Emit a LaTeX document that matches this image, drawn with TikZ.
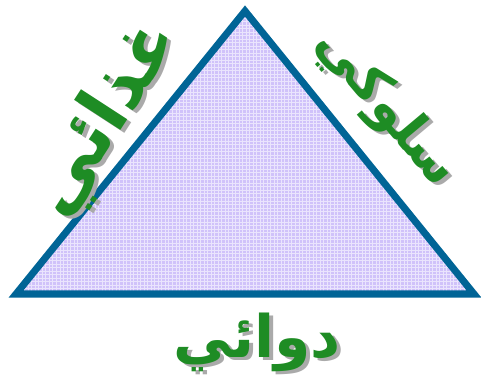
\documentclass[tikz,border=0pt]{standalone}
\usepackage{fontspec}
\newfontfamily\arabicfont[Script=Arabic]{DejaVu Sans}
\TeXXeTstate=1
\usetikzlibrary{patterns}
\definecolor{edgeblue}{RGB}{0,100,150}
\definecolor{softlilac}{RGB}{208,194,250}
\definecolor{leafgreen}{RGB}{30,140,36}
\definecolor{shadegray}{RGB}{170,170,170}

\begin{document}
\begin{tikzpicture}[x=0.03cm, y=0.03cm,
    every node/.style={inner sep=0pt},
    word/.style={text=leafgreen, font=\arabicfont\bfseries\fontsize{#1}{#1}\selectfont},
    wordshade/.style={text=shadegray, font=\arabicfont\bfseries\fontsize{#1}{#1}\selectfont},
    tri/.style={draw=edgeblue, line width=6pt, line join=miter}
  ]
  \useasboundingbox (0,0) rectangle (481,380);
  % triangle corners
  \coordinate (apex) at (245,369);
  \coordinate (lcorner) at (16,86);
  \coordinate (rcorner) at (474,86);
  \fill[softlilac] (apex) -- (lcorner) -- (rcorner) -- cycle;
  \fill[pattern=grid, pattern color=white!55!softlilac] (apex) -- (lcorner) -- (rcorner) -- cycle;
  \draw[tri] (apex) -- (lcorner) -- (rcorner) -- cycle;

  % word positions
  \coordinate (foodpos) at (106,261);
  \coordinate (habitpos) at (386,272);
  \coordinate (drugpos) at (257,38);

  % shadows
  \node[wordshade=62, rotate=57] (foodshade) at ([shift={(4,-3)}]foodpos) {\beginR غذائي\endR};
  \node[wordshade=45, rotate=-50] (habitshade) at ([shift={(4,-3)}]habitpos) {\beginR سلوكي\endR};
  \node[wordshade=50] (drugshade) at ([shift={(4,-3)}]drugpos) {\beginR دوائي\endR};

  % words
  \node[word=62, rotate=57] (food) at (foodpos) {\beginR غذائي\endR};
  \node[word=45, rotate=-50] (habit) at (habitpos) {\beginR سلوكي\endR};
  \node[word=50] (drug) at (drugpos) {\beginR دوائي\endR};
\end{tikzpicture}
\end{document}
